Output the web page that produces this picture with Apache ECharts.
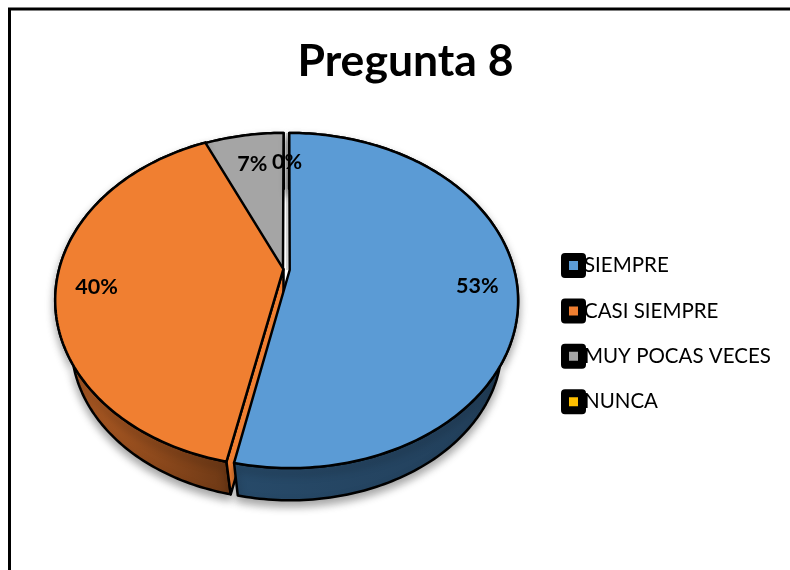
<!DOCTYPE html>
<html><head><meta charset="utf-8">
<style>html,body{margin:0;padding:0;background:#fff}#c{width:790px;height:570px}</style>
<script src="https://cdn.jsdelivr.net/npm/echarts@6/dist/echarts.min.js"></script>
</head><body><div id="c"></div>
<script>
var titleText = 'Pregunta 8';
var categories = ['SIEMPRE', 'CASI SIEMPRE', 'MUY POCAS VECES', 'NUNCA'];
var values = [53.3, 40, 6.7, 0];
var colors = ['#5b9bd5', '#f07f31', '#a5a5a5', '#ffc000'];
var wallStops = [['#274a69', '#223f5a'], ['#b96026', '#6c3815'], ['#6b6b6b', '#6b6b6b'], ['#a67c00', '#a67c00']];

// perspective projection of the tilted disc
var G = {cx: 287, cy: 270, R: 224.5, S: 162, p: 0.182, scale: 0.93, pivotY: 300, drop: 44};
var shifts = [[0.012, 0], [-0.016, 0.005], [-0.018, 0], [0, 0]];
var total = values.reduce(function (a, b) { return a + b; }, 0);

function proj(u, v, shift) {
  u += shift[0]; v += shift[1];
  var d = 1 + G.p * v;
  return [G.cx + G.R * u / d, G.cy - G.S * v / d];
}
function low(pt) {
  return [G.cx + (pt[0] - G.cx) * G.scale, G.pivotY + (pt[1] - G.pivotY) * G.scale + G.drop];
}
function angles(i) {
  var s = 0;
  for (var k = 0; k < i; k++) s += values[k];
  return [s / total * 2 * Math.PI, (s + values[i]) / total * 2 * Math.PI];
}
function rim(a0, a1, shift) {
  var n = Math.max(1, Math.ceil((a1 - a0) / (Math.PI / 180))), pts = [];
  for (var j = 0; j <= n; j++) {
    var a = a0 + (a1 - a0) * j / n;
    pts.push(proj(Math.sin(a), Math.cos(a), shift));
  }
  return pts;
}
function wallFill(i) {
  return new echarts.graphic.LinearGradient(0, 0, 1, 0, [
    {offset: 0, color: wallStops[i][0]}, {offset: 1, color: wallStops[i][1]}]);
}
var stroke = {stroke: '#000', lineWidth: 2.5, lineJoin: 'round'};
function poly(points, fill, extra) {
  var st = Object.assign({fill: fill}, stroke, extra || {});
  return {type: 'polygon', shape: {points: points}, style: st};
}
function sliceItem(i) {
  return function () {
    var ang = angles(i), sh = shifts[i];
    var apex = proj(0, 0, sh);
    var arc = rim(ang[0], ang[1], sh);
    if (values[i] === 0) {
      return {type: 'group', children: [{type: 'polyline',
        shape: {points: [arc[0], apex]}, style: {stroke: '#d4d4d4', lineWidth: 2, fill: null}}]};
    }
    var children = [];
    var wall = arc.concat(arc.slice().reverse().map(low));
    children.push(poly(wall, wallFill(i), {
      shadowBlur: 9, shadowColor: 'rgba(0,0,0,0.35)', shadowOffsetY: 5}));
    if (Math.sin(ang[0]) < -0.01) {
      children.push(poly([apex, arc[0], low(arc[0]), low(apex)], colors[i]));
    }
    children.push(poly([apex].concat(arc), colors[i]));
    return {type: 'group', children: children};
  };
}
function labelItem() {
  var children = values.map(function (val, i) {
    var ang = angles(i), mid = (ang[0] + ang[1]) / 2;
    var pt = proj(0.84 * Math.sin(mid), 0.78 * Math.cos(mid), [0, 0]);
    return {type: 'text', style: {
      x: pt[0], y: pt[1] + 3, text: Math.round(val / total * 100) + '%',
      font: 'bold 21.5px Lato', fill: '#000', align: 'center', verticalAlign: 'middle'}};
  });
  return {type: 'group', children: children};
}
var series = categories.map(function (name, i) {
  return {type: 'custom', name: name, coordinateSystem: 'none', z: 6 - i,
    itemStyle: {color: colors[i]}, data: [[values[i]]], renderItem: sliceItem(i), silent: true};
});
series.push({type: 'custom', name: 'etiquetas', coordinateSystem: 'none', z: 10,
  data: [[0]], renderItem: labelItem, silent: true});

var chart = echarts.init(document.getElementById('c'), null, {renderer: 'canvas'});
chart.setOption({
  animation: false,
  backgroundColor: '#fff',
  title: {text: titleText, left: 400.5, top: 34, textAlign: 'center',
    textStyle: {fontFamily: 'Lato', fontWeight: 'bold', fontSize: 44.5, color: '#000'}},
  legend: {data: categories, orient: 'vertical', left: 556, top: 248, itemWidth: 17, itemHeight: 17,
    itemGap: 20.4, icon: 'rect', selectedMode: false,
    itemStyle: {borderColor: '#000', borderWidth: 8, borderJoin: 'round'},
    textStyle: {fontFamily: 'Lato', fontSize: 20.5, color: '#000', padding: [0, 0, 0, -3]}},
  graphic: [{type: 'polyline', shape: {points: [[9.5, 570], [9.5, 9], [790, 9]]},
    style: {stroke: '#000', lineWidth: 3, fill: null}, silent: true}],
  series: series
});
</script></body></html>
